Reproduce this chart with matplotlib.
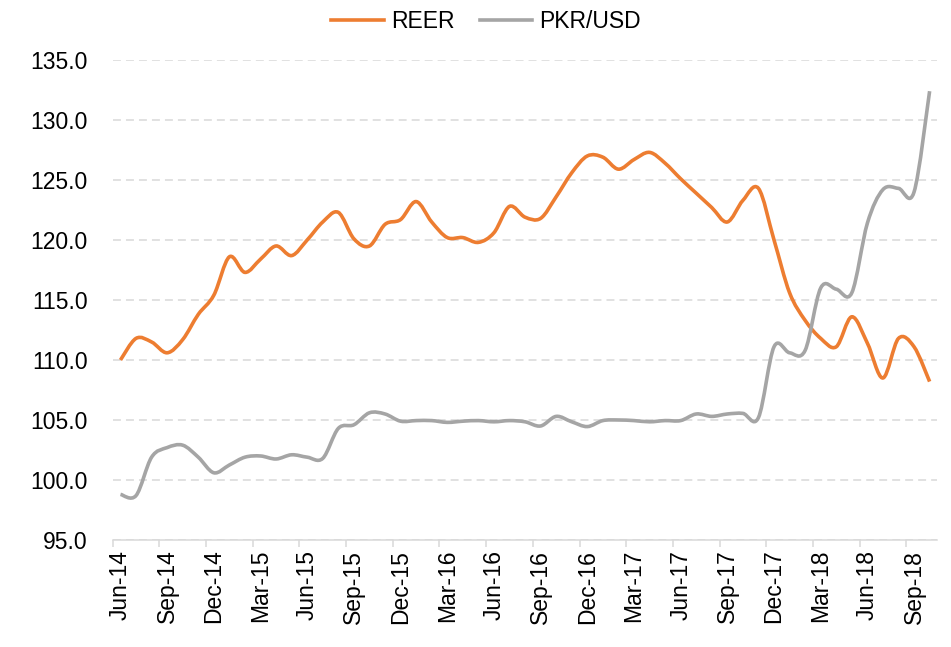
import matplotlib
matplotlib.use("Agg")
import matplotlib.pyplot as plt
from matplotlib.path import Path
from matplotlib.patches import PathPatch
from matplotlib.lines import Line2D
import numpy as np
import pandas as pd

plt.rcParams['font.family'] = ['Liberation Sans', 'DejaVu Sans']

# monthly, Jun-14 .. Oct-18
months = pd.date_range('2014-06-01', periods=53, freq='MS')
month_labels = [d.strftime('%b-%y') for d in months]

reer = [110.0, 111.8, 111.5, 110.6, 111.7, 113.8, 115.4,
        118.6, 117.3, 118.4, 119.5, 118.7, 120.0, 121.5, 122.3, 120.1, 119.5, 121.3, 121.7,
        123.2, 121.5, 120.2, 120.2, 119.8, 120.6, 122.8, 121.9, 121.8, 123.6, 125.6, 127.0,
        126.9, 125.9, 126.7, 127.3, 126.4, 125.1, 123.9, 122.7, 121.5, 123.3, 124.3, 120.0,
        115.6, 113.3, 111.8, 111.1, 113.6, 111.4, 108.5, 111.8, 111.1, 108.2]

pkr_usd = [98.8, 98.7, 101.9, 102.7, 102.9, 101.9, 100.6,
           101.25, 101.9, 102.0, 101.75, 102.1, 101.9, 101.8, 104.3, 104.6, 105.6, 105.5, 104.9,
           104.95, 104.95, 104.8, 104.9, 104.95, 104.85, 104.95, 104.85, 104.5, 105.3, 104.85, 104.45,
           104.95, 105.0, 104.95, 104.85, 104.95, 104.95, 105.5, 105.3, 105.5, 105.55, 105.2, 111.1,
           110.6, 110.8, 116.0, 115.9, 115.6, 121.4, 124.2, 124.3, 124.0, 132.4]

series_names = ['REER', 'PKR/USD']
colors = ['#ED7D31', '#A5A5A5']


def smooth_path(x, y):
    # Excel-like smoothed line: Catmull-Rom segments as cubic Beziers
    p = np.column_stack([x, y]).astype(float)
    p_ext = np.vstack([p[0], p, p[-1]])
    verts = [p[0]]
    codes = [Path.MOVETO]
    for i in range(len(p) - 1):
        p0, p1, p2, p3 = p_ext[i], p_ext[i + 1], p_ext[i + 2], p_ext[i + 3]
        c1 = p1 + (p2 - p0) / 6.0
        c2 = p2 - (p3 - p1) / 6.0
        verts += [c1, c2, p2]
        codes += [Path.CURVE4] * 3
    return Path(verts, codes)


fig = plt.figure(figsize=(9.51, 6.47), dpi=100)
ax = fig.add_axes([0.1185, 0.1654, 0.8672, 0.7419])

x = np.arange(len(months))
for vals, c in zip([reer, pkr_usd], colors):
    patch = PathPatch(smooth_path(x, vals), fill=False, edgecolor=c, lw=2.6,
                      joinstyle='round', capstyle='butt', zorder=3)
    ax.add_patch(patch)

ax.set_xlim(-0.5, len(months) - 0.5)
ax.set_ylim(95, 135)
ax.set_yticks(np.arange(95, 136, 5))
ax.set_yticklabels(['%.1f' % v for v in np.arange(95, 136, 5)])

# tick marks between categories, labels on categories
ax.set_xticks(np.arange(0, len(months), 3) - 0.5)
ax.set_xticklabels([])
ax.set_xticks(np.arange(0, len(months), 3), minor=True)
ax.set_xticklabels(month_labels[::3], minor=True, rotation=90)
ax.tick_params(axis='x', which='major', length=5, width=1.1, color='#D9D9D9')
ax.tick_params(axis='x', which='minor', length=0, pad=7, labelsize=16.5)
ax.tick_params(axis='y', length=0, pad=18, labelsize=16.5)

ax.grid(axis='y', color='#D9D9D9', lw=1.1, linestyle=(0, (5.2, 3.3)))
ax.set_axisbelow(True)
for s in ['top', 'right', 'left']:
    ax.spines[s].set_visible(False)
ax.spines['bottom'].set_color('#D9D9D9')
ax.spines['bottom'].set_linewidth(1.1)

handles = [Line2D([], [], color=c, lw=2.6) for c in colors]
fig.legend(handles, series_names, loc='center', bbox_to_anchor=(0.511, 0.966),
           ncol=2, frameon=False, fontsize=16.5, handlelength=2.3,
           handletextpad=0.3, columnspacing=1.1)

fig.savefig('out.png', dpi=100)
